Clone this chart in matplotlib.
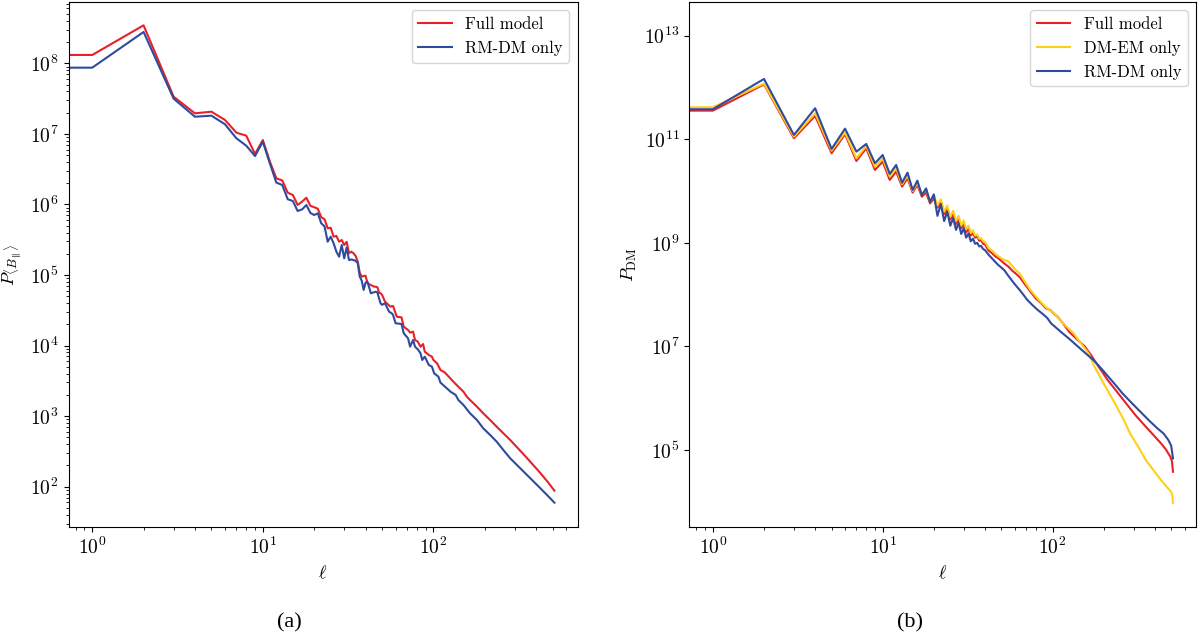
import numpy as np
import matplotlib
matplotlib.use("Agg")
import matplotlib.pyplot as plt
from matplotlib.ticker import FixedLocator, NullLocator

plt.rcParams.update({
    "mathtext.fontset": "cm",
    "font.family": "serif",
    "font.serif": ["cmr10"],
    "axes.formatter.use_mathtext": True,
    "font.size": 12,
})

# ---------------- panel (a): P_<B_par> (log10 values) ----------------
ell_a_low = list(range(0, 51))
a_full_low = [8.118, 8.118, 8.538, 7.527, 7.291, 7.314, 7.197, 7.017, 6.974, 6.715,
              6.913, 6.606, 6.370, 6.34, 6.166, 6.134, 5.992, 6.04, 6.095, 5.98,
              5.96, 5.94, 5.818, 5.79, 5.662, 5.67, 5.543, 5.553, 5.472, 5.496,
              5.425, 5.47, 5.31, 5.33, 5.308, 5.27, 5.19, 5.03, 4.976, 4.985,
              4.99, 4.89, 4.87, 4.858, 4.845, 4.834, 4.834, 4.825, 4.75, 4.741, 4.72]
a_rmdm_low = [7.938, 7.938, 8.444, 7.499, 7.243, 7.258, 7.136, 6.937, 6.832, 6.686,
              6.889, 6.58, 6.31, 6.275, 6.073, 6.049, 5.907, 5.93, 5.992, 5.88,
              5.85, 5.874, 5.733, 5.69, 5.472, 5.543, 5.449, 5.33, 5.259, 5.425,
              5.236, 5.39, 5.212, 5.22, 5.212, 5.20, 5.17, 4.976, 4.92, 4.788,
              4.89, 4.906, 4.825, 4.741, 4.75, 4.755, 4.764, 4.75, 4.67, 4.599, 4.577]

ell_a_full_high = [52, 56, 58, 61, 65, 67, 71, 73, 76, 78, 81, 84, 87, 89, 94, 98, 100,
                   105, 110, 117, 123, 131, 140, 150, 157, 164, 180, 196, 215, 235, 257,
                   282, 350, 420, 470, 500, 512]
a_full_high = [4.622, 4.551, 4.561, 4.409, 4.40, 4.267, 4.221, 4.183, 4.197, 4.079,
               4.055, 3.984, 4.022, 3.913, 3.866, 3.842, 3.796, 3.749, 3.654, 3.616,
               3.559, 3.488, 3.417, 3.346, 3.276, 3.229, 3.134, 3.04, 2.945, 2.85,
               2.757, 2.662, 2.418, 2.204, 2.062, 1.976, 1.944]
ell_a_rmdm_high = [52, 55, 57, 58, 60, 65, 67, 71, 73, 76, 78, 81, 84, 86, 89, 94, 98,
                   101, 107, 110, 117, 126, 135, 140, 150, 164, 180, 196, 215, 235, 257,
                   282, 350, 420, 470, 500, 512]
a_rmdm_high = [4.60, 4.48, 4.457, 4.433, 4.316, 4.306, 4.174, 4.103, 3.984, 4.079,
               3.984, 3.947, 3.891, 3.796, 3.842, 3.725, 3.701, 3.607, 3.559, 3.474,
               3.417, 3.346, 3.30, 3.229, 3.158, 3.04, 2.945, 2.827, 2.733, 2.638,
               2.52, 2.402, 2.177, 1.987, 1.867, 1.80, 1.774]

# ---------------- panel (b): P_DM (log10 values) ----------------
ell_b_low = list(range(0, 41))
b_full_low = [11.552, 11.552, 12.06, 11.019, 11.45, 10.729, 11.096, 10.58, 10.826, 10.407,
              10.567, 10.214, 10.374, 10.085, 10.247, 9.97, 10.117, 9.89, 9.97, 9.76,
              9.86, 9.68, 9.78, 9.55, 9.66, 9.45, 9.55, 9.36, 9.45, 9.28,
              9.36, 9.20, 9.27, 9.14, 9.19, 9.10, 9.12, 9.04, 9.05, 8.98, 8.97]
b_dmem_low = [11.617, 11.617, 12.075, 11.05, 11.50, 10.78, 11.13, 10.63, 10.87, 10.47,
              10.63, 10.28, 10.44, 10.13, 10.30, 10.00, 10.16, 9.93, 10.03, 9.80,
              9.92, 9.72, 9.84, 9.60, 9.72, 9.50, 9.62, 9.42, 9.52, 9.33,
              9.43, 9.26, 9.33, 9.19, 9.24, 9.14, 9.16, 9.08, 9.09, 9.03, 9.02]
b_rmdm_low = [11.579, 11.579, 12.164, 11.083, 11.598, 10.812, 11.204, 10.76, 10.909, 10.536,
              10.695, 10.33, 10.503, 10.16, 10.355, 10.02, 10.2, 9.92, 10.05, 9.79,
              9.935, 9.52, 9.75, 9.42, 9.60, 9.33, 9.48, 9.25, 9.38, 9.17,
              9.28, 9.10, 9.18, 9.03, 9.08, 8.98, 9.00, 8.93, 8.94, 8.88, 8.86]

ell_b_full_high = [42, 44, 46, 48, 50, 52, 55, 58, 61, 64, 68, 74, 80, 86, 91, 97, 102,
                   107, 115, 125, 140, 155, 168, 181, 195, 211, 240, 271, 310, 354, 395,
                   435, 465, 494, 505, 512]
b_full_high = [8.85, 8.80, 8.74, 8.70, 8.65, 8.60, 8.54, 8.46, 8.40, 8.34,
               8.22, 8.06, 7.92, 7.83, 7.74, 7.70, 7.63, 7.57, 7.45, 7.285,
               7.13, 6.996, 6.84, 6.674, 6.52, 6.352, 6.12, 5.901, 5.66, 5.45,
               5.28, 5.128, 5.01, 4.87, 4.78, 4.58]
ell_b_dmem_high = [42, 44, 46, 48, 50, 52, 55, 58, 61, 64, 68, 74, 83, 91, 102, 115, 133,
                   150, 163, 176, 190, 210, 233, 260, 286, 320, 354, 395, 435, 470, 500,
                   508, 512]
b_dmem_high = [8.90, 8.85, 8.79, 8.74, 8.70, 8.67, 8.64, 8.55, 8.47, 8.41,
               8.27, 8.09, 7.897, 7.76, 7.639, 7.45, 7.253, 7.02, 6.867, 6.62,
               6.416, 6.16, 5.901, 5.61, 5.321, 5.06, 4.806, 4.60, 4.419, 4.29,
               4.19, 4.12, 3.981]
ell_b_rmdm_high = [42, 44, 46, 48, 50, 52, 55, 58, 61, 64, 68, 71, 76, 82, 88, 93, 98,
                   105, 112, 125, 150, 172, 181, 200, 230, 258, 290, 336, 370, 414, 450,
                   481, 500, 512]
b_rmdm_high = [8.77, 8.70, 8.63, 8.57, 8.52, 8.47, 8.36, 8.26, 8.17, 8.09,
               7.98, 7.897, 7.80, 7.70, 7.62, 7.55, 7.446, 7.36, 7.28, 7.15,
               6.92, 6.75, 6.68, 6.52, 6.29, 6.094, 5.92, 5.708, 5.57, 5.418,
               5.32, 5.192, 5.08, 4.838]

RED = "#e8202a"
YELLOW = "#fcd116"
BLUE = "#2f4a9e"
LW = 1.5


def series(ell_low, low, ell_high, high):
    x = np.array(list(ell_low) + list(ell_high), dtype=float)
    y = 10.0 ** np.array(list(low) + list(high))
    return x, y


fig = plt.figure(figsize=(12, 6.36), dpi=100)
ax1 = fig.add_axes([0.0571, 0.1714, 0.4242, 0.8255])
ax2 = fig.add_axes([0.5744, 0.1714, 0.4223, 0.8255])

for ax in (ax1, ax2):
    ax.set_xscale("log", nonpositive="clip")
    ax.set_yscale("log")

x, y = series(ell_a_low, a_full_low, ell_a_full_high, a_full_high)
ax1.plot(x, y, color=RED, lw=LW, label="Full model")
x, y = series(ell_a_low, a_rmdm_low, ell_a_rmdm_high, a_rmdm_high)
ax1.plot(x, y, color=BLUE, lw=LW, label="RM-DM only")

x, y = series(ell_b_low, b_full_low, ell_b_full_high, b_full_high)
ax2.plot(x, y, color=RED, lw=LW, label="Full model")
x, y = series(ell_b_low, b_dmem_low, ell_b_dmem_high, b_dmem_high)
ax2.plot(x, y, color=YELLOW, lw=LW, label="DM-EM only")
x, y = series(ell_b_low, b_rmdm_low, ell_b_rmdm_high, b_rmdm_high)
ax2.plot(x, y, color=BLUE, lw=LW, label="RM-DM only")

for ax in (ax1, ax2):
    ax.set_xlim(10 ** -0.139, 10 ** 2.845)
    ax.set_xlabel(r"$\ell$", fontsize=13)
    ax.tick_params(labelsize=14)
    ax.legend(loc="upper right", fontsize=12)

ax1.set_ylim(10 ** 1.429, 10 ** 8.869)
ax2.set_ylim(10 ** 3.513, 10 ** 13.65)
ax2.yaxis.set_major_locator(FixedLocator([1e5, 1e7, 1e9, 1e11, 1e13]))
ax2.yaxis.set_minor_locator(NullLocator())

ax1.set_ylabel(r"$P_{\langle B_\parallel \rangle}$", fontsize=13)
ax2.set_ylabel(r"$P_{\mathrm{DM}}$", fontsize=13)

fig.text(0.241, 0.021, "(a)", ha="center", va="center",
         family="Liberation Serif", fontsize=16)
fig.text(0.758, 0.021, "(b)", ha="center", va="center",
         family="Liberation Serif", fontsize=16)

fig.savefig("out.png", dpi=100)
